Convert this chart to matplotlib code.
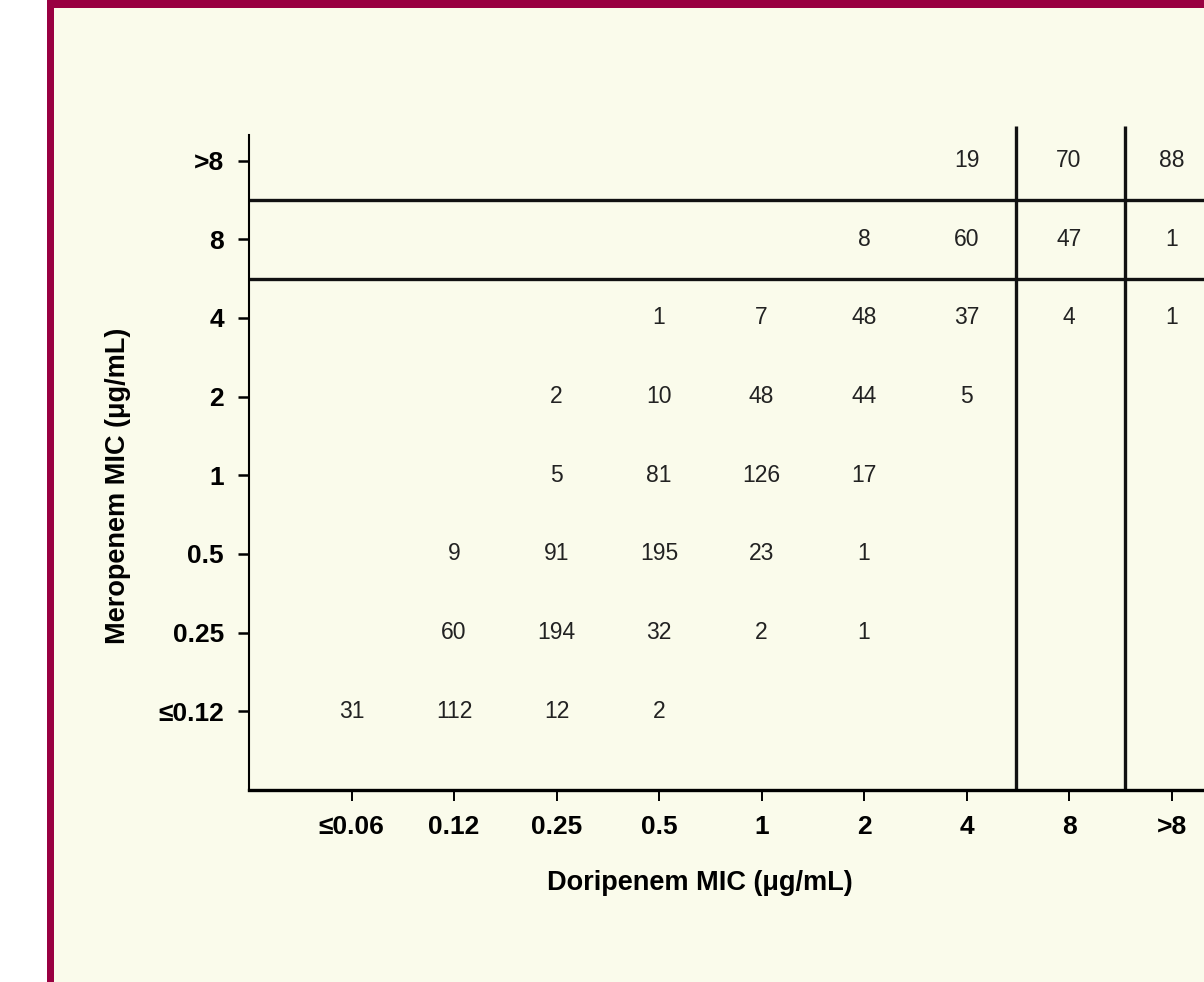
import matplotlib
matplotlib.use('Agg')
import matplotlib.pyplot as plt
from matplotlib.patches import Rectangle

plt.rcParams['font.family'] = ['Liberation Sans', 'DejaVu Sans']

# 横轴：多利培南 MIC，纵轴：美罗培南 MIC
dori_labels = ['≤0.06', '0.12', '0.25', '0.5', '1', '2', '4', '8', '>8']
mero_labels = ['≤0.12', '0.25', '0.5', '1', '2', '4', '8', '>8']

# 每行计数（从 ≤0.12 到 >8），None 表示空格
counts = [
    [31, 112, 12, 2, None, None, None, None, None],
    [None, 60, 194, 32, 2, 1, None, None, None],
    [None, 9, 91, 195, 23, 1, None, None, None],
    [None, None, 5, 81, 126, 17, None, None, None],
    [None, None, 2, 10, 48, 44, 5, None, None],
    [None, None, None, 1, 7, 48, 37, 4, 1],
    [None, None, None, None, None, 8, 60, 47, 1],
    [None, None, None, None, None, None, 19, 70, 88],
]

# 断点分隔线位置（类别索引之间）
x_breaks = [6.48, 7.55]
y_breaks = [5.5, 6.5]

bg = '#FAFBEB'
maroon = '#990041'

fig = plt.figure(figsize=(12.04, 9.82), dpi=100)
fig.patch.set_facecolor(bg)

# 左侧白条和边框
fig.patches.append(Rectangle((0, 0), 47 / 1204, 1, transform=fig.transFigure,
                             facecolor='white', edgecolor='none', zorder=0))
fig.patches.append(Rectangle((47 / 1204, 0), 7 / 1204, 1, transform=fig.transFigure,
                             facecolor=maroon, edgecolor='none', zorder=0))
fig.patches.append(Rectangle((47 / 1204, 1 - 8 / 982), 1, 8 / 982, transform=fig.transFigure,
                             facecolor=maroon, edgecolor='none', zorder=0))

ax = fig.add_axes([249 / 1204, 192 / 982, 1025 / 1204, 664 / 982])
ax.set_facecolor('none')
ax.set_xlim(-1, 9)
ax.set_ylim(-1, 7.44)

for i, row in enumerate(counts):
    for j, v in enumerate(row):
        if v is not None:
            ax.text(j, i, str(v), ha='center', va='center', fontsize=16.5, color='#222222')

for xb in x_breaks:
    ax.plot([xb, xb], [-1, 7.44], color='#111111', lw=2.4, solid_capstyle='butt')
for yb in y_breaks:
    ax.plot([-1, 9], [yb, yb], color='#111111', lw=2.4, solid_capstyle='butt')

ax.set_xticks(range(len(dori_labels)))
ax.set_xticklabels(dori_labels, fontsize=19, fontweight='bold')
ax.set_yticks(range(len(mero_labels)))
ax.set_yticklabels(mero_labels, fontsize=19, fontweight='bold')

ax.spines['top'].set_visible(False)
ax.spines['right'].set_visible(False)
ax.spines['left'].set_linewidth(1.5)
ax.spines['left'].set_bounds(-1, 7.32)
ax.spines['bottom'].set_linewidth(2.4)
ax.tick_params(axis='y', length=8, width=1.8, pad=10)
ax.tick_params(axis='x', length=8, width=1.4, pad=10)

ax.set_xlabel('Doripenem MIC (μg/mL)', fontsize=19.5, fontweight='bold')
ax.xaxis.set_label_coords(451 / 1025, -80 / 664)
ax.set_ylabel('Meropenem MIC (μg/mL)', fontsize=19.5, fontweight='bold')
ax.yaxis.set_label_coords(-118 / 1025, 304 / 664)

fig.savefig('out.png', dpi=100, facecolor=bg)
